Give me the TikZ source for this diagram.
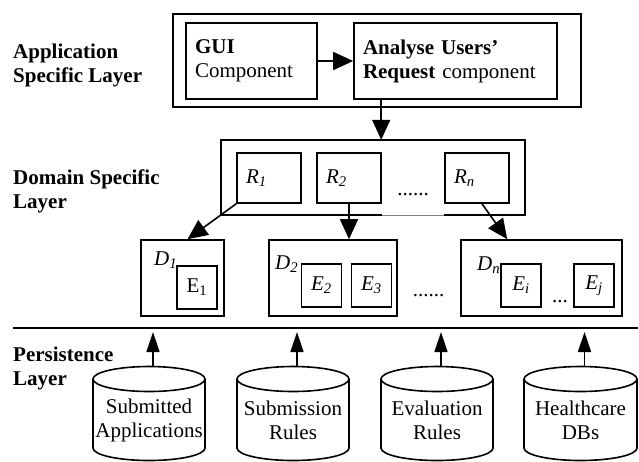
\documentclass[tikz,border=0pt]{standalone}
\usepackage{fontspec}
\setmainfont{Liberation Serif}
\usetikzlibrary{arrows.meta}
\tikzset{
  box/.style={draw,rectangle,line width=1.6pt,inner sep=0pt},
  comp/.style={box,minimum height=76pt,align=left,inner xsep=9pt},
  rbox/.style={box,minimum width=64pt,minimum height=50pt,text width=46pt,inner xsep=9pt,align=left},
  ebox/.style={box,minimum width=40pt,minimum height=43pt},
  dbox/.style={box,minimum height=76pt},
  layer/.style={anchor=west,align=left,inner sep=0pt,font=\fontsize{21}{24}\selectfont\bfseries},
  dbline/.style={line width=1.6pt},
  dbtext/.style={align=center,inner sep=0pt},
  tag/.style={anchor=base west,inner sep=0pt},
  dots/.style={anchor=base,inner sep=0pt},
  bigtip/.style={-{Triangle[length=20pt,width=18pt]},line width=1.6pt},
  uptip/.style={-{Triangle[length=20pt,width=13pt]},line width=1.6pt}
}

\begin{document}
\begin{tikzpicture}[x=1pt,y=-1pt,font=\fontsize{21}{24}\selectfont]
  \useasboundingbox (0,0) rectangle (639,461);

  % application layer
  \node[box,minimum width=408pt,minimum height=93pt] (app) at (377,60.5) {};
  \node[comp,text width=113pt] (gui) at (251.5,61) {\textbf{GUI}\\Component};
  \node[comp,text width=185pt] (ana) at (455.5,61) {\textbf{Analyse Users'}\\\textbf{Request} component};
  \node[layer] (lapp) at (13,65) {Application\\Specific Layer};

  % domain layer
  \node[minimum width=304pt,minimum height=75pt,inner sep=0pt] (dom) at (373,177.5) {};
  \node[rbox] (r1) at (269,178) {\textit{R\textsubscript{1}}};
  \node[rbox] (r2) at (349,178) {\textit{R\textsubscript{2}}};
  \node[rbox] (rn) at (477,178) {\textit{R\textsubscript{n}}};
  \node[dots] (rdots) at (413,195) {......};
  \node[layer] (ldom) at (13,191) {Domain Specific\\Layer};

  \node[dbox,minimum width=83pt] (d1) at (182.5,278) {};
  \node[dbox,minimum width=128pt] (d2) at (333,278) {};
  \node[dbox,minimum width=161pt] (dn) at (541.5,278) {};
  \node[tag] (d1l) at (154,265) {\textit{D\textsubscript{1}}};
  \node[tag] (d2l) at (275,269) {\textit{D\textsubscript{2}}};
  \node[tag] (dnl) at (477,270) {\textit{D\textsubscript{n}}};
  \node[ebox] (e1) at (197,287.5) {E\textsubscript{1}};
  \node[ebox] (e2) at (321.5,285.5) {\textit{E\textsubscript{2}}};
  \node[ebox] (e3) at (371.5,285.5) {\textit{E\textsubscript{3}}};
  \node[ebox] (ei) at (521,285.5) {\textit{E\textsubscript{i}}};
  \node[ebox] (ej) at (594,285.5) {\textit{E\textsubscript{j}}};
  \node[dots] (ddots) at (428.5,296) {......};
  \node[dots] (edots) at (560,302) {...};

  % persistence layer
  \coordinate (sepl) at (13,328);
  \coordinate (sepr) at (638,328);
  \node[layer] (lper) at (13,368) {Persistence\\Layer};
  \foreach \n/\x/\r in {1/149/56,2/293/56,3/437/56,4/580.5/56.5} {
    \draw[dbline] (\x,379) ellipse [x radius=\r, y radius=12.5];
    \draw[dbline] (\x-\r,379) -- (\x-\r,448) arc[start angle=180,end angle=0,x radius=\r,y radius=12.5]
      -- (\x+\r,379);
    \coordinate (top\n) at (\x+4,366.5);
  }
  \node[dbtext] (t1) at (149,420.5) {Submitted\\Applications};
  \node[dbtext] (t2) at (293,420.5) {Submission\\Rules};
  \node[dbtext] (t3) at (437,420.5) {Evaluation\\Rules};
  \node[dbtext] (t4) at (580.5,420.5) {Healthcare\\DBs};

  % domain box with its thin bottom gap
  \draw[line width=1.6pt] (r2.south east |- dom.south) -- (dom.south west) -- (dom.north west)
    -- (dom.north east) -- (dom.south east) -- (rn.south west |- dom.south);
  \draw[gray,thin] (r2.south east |- dom.south) -- (rn.south west |- dom.south);
  \draw[line width=1.6pt] (sepl) -- (sepr);

  % connectors
  \draw[bigtip] (gui.east) -- (ana.west);
  \draw[bigtip] ([xshift=28pt]ana.south west) -- ([xshift=28pt]ana.south west |- dom.north);
  \draw[bigtip] (r1.south west) -- ([xshift=5pt]d1.north);
  \draw[bigtip] (r2.south) -- (r2.south |- d2.north);
  \draw[bigtip] ([xshift=5pt]rn.south) -- ([xshift=47pt]dn.north west);
  \foreach \n in {1,2,3,4}
    \draw[uptip,shorten >=4pt] (top\n) -- (top\n |- sepl);
\end{tikzpicture}
\end{document}
